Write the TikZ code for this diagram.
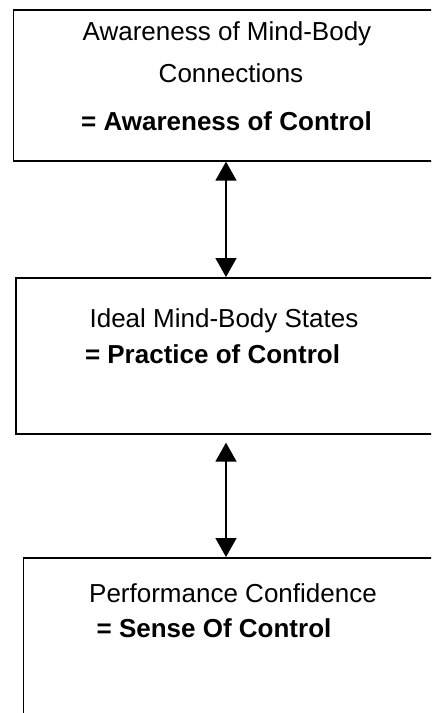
\documentclass[tikz,border=0pt]{standalone}
\usepackage{fontspec}
\setmainfont{Liberation Sans}
\usetikzlibrary{arrows.meta}
\begin{document}
\begin{tikzpicture}[x=1bp,y=-1bp,
  box/.style={draw, line width=1.7bp, rectangle, inner sep=0pt, anchor=north west},
  txt/.style={anchor=base, inner sep=0pt, font=\fontsize{26bp}{30bp}\selectfont},
  btxt/.style={anchor=base, inner sep=0pt, font=\fontsize{26bp}{30bp}\selectfont\bfseries},
  link/.style={line width=1.7bp, {Triangle[length=19bp,width=21bp]}-{Triangle[length=19bp,width=21bp]}}]
\useasboundingbox (0,0) rectangle (431,713);
\clip (0,0) rectangle (431,713);

% the three boxes, their right sides run past the page edge
\node[box, minimum width=428bp, minimum height=151bp] (top) at (12.7,9) {};
\node[box, minimum width=420bp, minimum height=156bp] (mid) at (15,277) {};
\node[box, minimum width=422bp, minimum height=200bp] (bot) at (22.7,557) {};

% labels
\node[txt]  (topA) at (227,41)  {Awareness of Mind-Body};
\node[txt]  (topB) at (231,82.5)  {Connections};
\node[btxt] (topC) at (226.5,130.5) {= Awareness of Control};
\node[txt]  (midA) at (224,327.5) {Ideal Mind-Body States};
\node[btxt] (midB) at (212.5,363) {= Practice of Control};
\node[txt]  (botA) at (233,602) {Performance Confidence};
\node[btxt] (botB) at (214,637) {= Sense Of Control};

% two-way links between the boxes
\coordinate (axis) at (226,0);
\coordinate (gap) at ([yshift=-8bp]mid.south);
\draw[link] (top.south -| axis) -- (mid.north -| axis);
\draw[link] (gap -| axis) -- (bot.north -| axis);
\end{tikzpicture}
\end{document}
